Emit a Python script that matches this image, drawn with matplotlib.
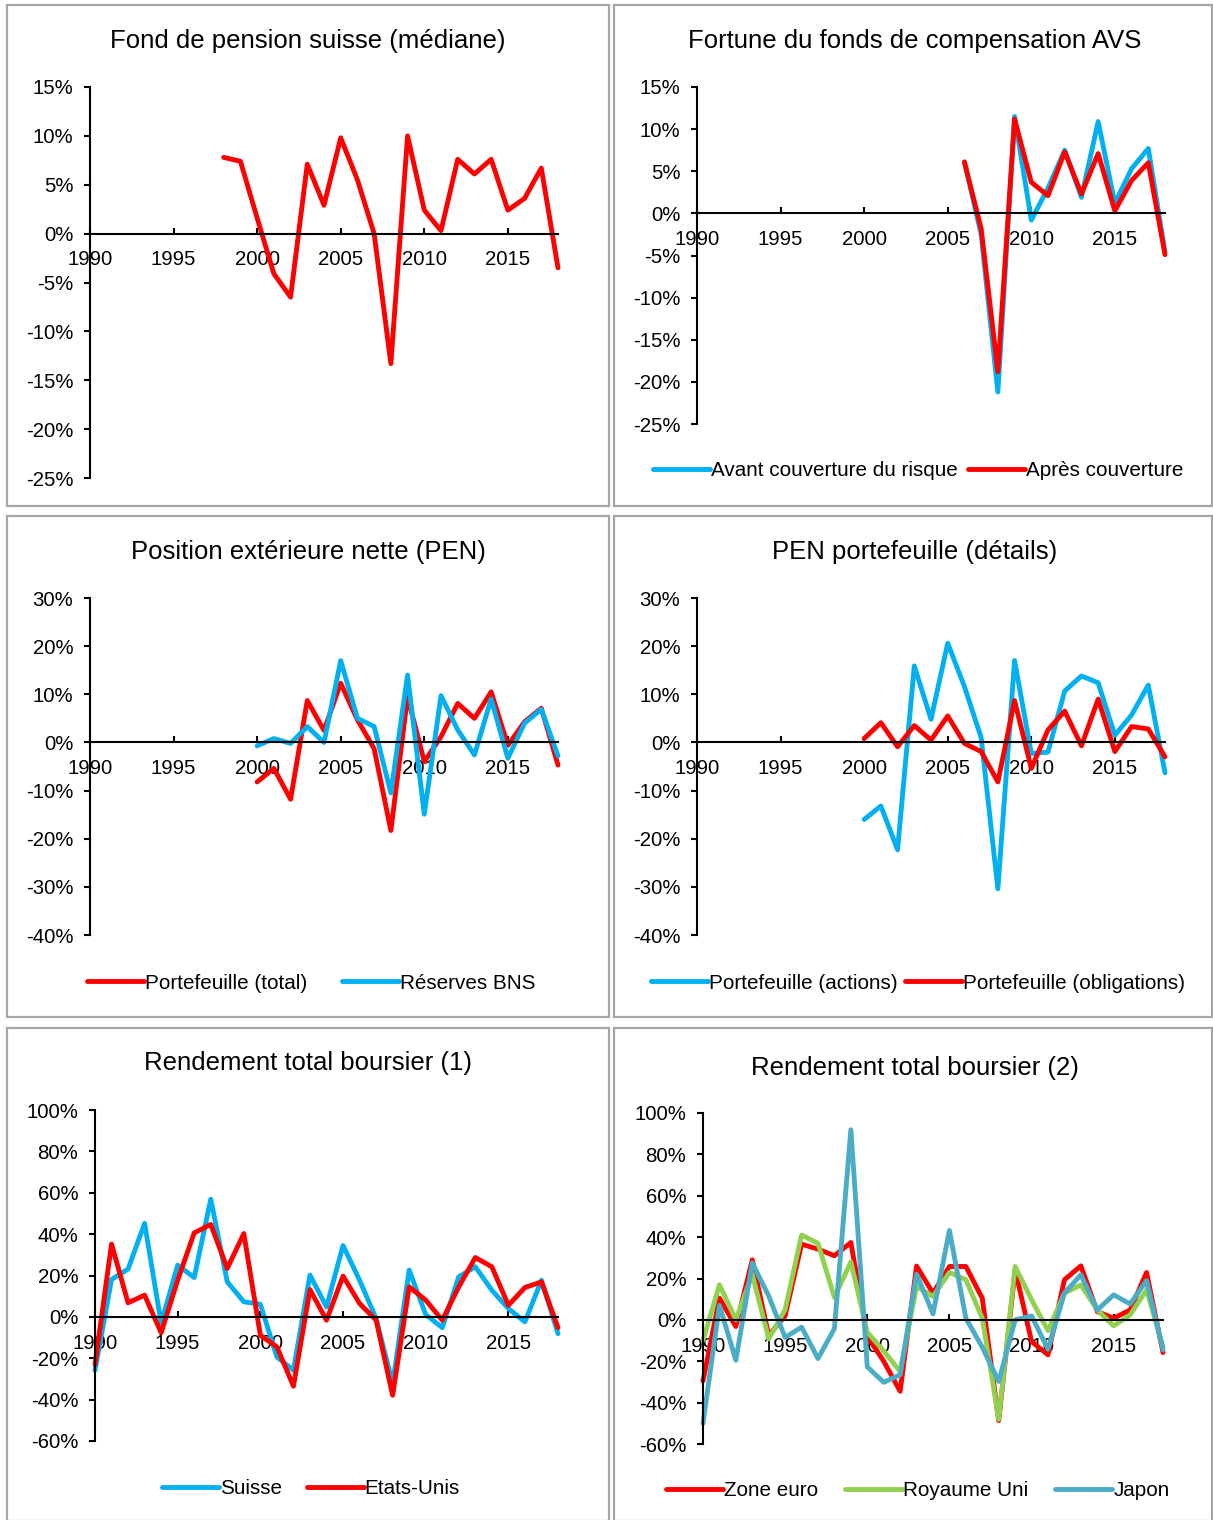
import matplotlib
matplotlib.use("Agg")
import matplotlib.pyplot as plt
from matplotlib.patches import Rectangle
from matplotlib.ticker import FuncFormatter

plt.rcParams['font.family'] = ['Liberation Sans', 'DejaVu Sans']

# =============================
# Data (% returns)
# =============================

years_pension = list(range(1998, 2019))
pension = [7.8, 7.4, 1.6, -4.1, -6.5, 7.1, 2.9, 9.8, 5.5, 0.0, -13.3,
           10.0, 2.4, 0.3, 7.6, 6.1, 7.6, 2.4, 3.6, 6.7, -3.5]

years_avs = list(range(2006, 2019))
avs_before = [6.1, -2.5, -21.2, 11.5, -0.8, 3.0, 7.5, 1.9, 10.9, 1.2, 5.3, 7.7, -4.6]
avs_after = [6.1, -1.8, -18.8, 11.2, 3.7, 2.1, 7.3, 2.3, 7.1, 0.3, 3.9, 6.0, -4.9]

years_pen = list(range(2000, 2019))
pen_total = [-8.2, -5.4, -11.8, 8.7, 2.5, 12.3, 4.7, -1.3, -18.3, 9.5,
             -4.0, 1.2, 8.1, 5.0, 10.5, -0.6, 4.3, 7.1, -4.7]
pen_bns = [-0.7, 0.8, -0.2, 3.3, 0.0, 17.0, 5.0, 3.3, -10.5, 14.0,
           -14.9, 9.7, 2.6, -2.6, 9.0, -3.3, 4.0, 6.9, -2.8]
pen_actions = [-16.0, -13.2, -22.3, 15.9, 4.8, 20.6, 11.6, 1.0, -30.4, 17.0,
               -2.3, -2.0, 10.7, 13.8, 12.4, 1.5, 5.7, 11.9, -6.3]
pen_oblig = [0.8, 4.1, -0.9, 3.5, 0.5, 5.5, -0.2, -1.9, -8.2, 8.7,
             -5.4, 2.6, 6.5, -0.7, 9.0, -1.9, 3.3, 2.8, -3.0]

years_stock = list(range(1990, 2019))
suisse = [-25.8, 18.1, 23.1, 45.2, -3.0, 25.0, 19.0, 56.9, 16.9, 7.3,
          6.1, -19.4, -25.8, 20.2, 4.8, 34.5, 17.7, -0.8, -32.3, 22.6,
          1.1, -5.2, 19.4, 24.2, 12.9, 4.0, -2.4, 17.7, -8.1]
usa = [-23.0, 35.2, 6.8, 10.5, -7.7, 17.7, 40.6, 44.7, 23.4, 40.3,
       -8.9, -14.5, -33.5, 13.2, -1.6, 19.7, 6.5, -1.6, -37.9, 14.5,
       8.1, -1.6, 14.5, 28.7, 24.2, 5.6, 14.2, 16.9, -5.2]
euro = [-29.5, 10.5, -3.2, 29.0, -7.5, 2.0, 36.6, 34.2, 31.0, 37.4,
        -8.0, -20.0, -34.5, 26.0, 12.9, 25.8, 25.8, 10.5, -48.7, 24.2,
        -10.5, -16.9, 19.4, 26.1, 4.0, 0.8, 4.8, 22.9, -15.8]
uk = [-10.0, 17.0, 0.0, 22.0, -9.2, 5.0, 41.0, 37.0, 10.8, 28.0,
      -6.0, -15.0, -25.0, 16.1, 11.3, 22.9, 19.4, 0.8, -48.1, 25.8,
      9.7, -5.2, 12.9, 16.9, 4.8, -2.9, 2.4, 14.5, -13.0]
japan = [-50.0, 7.0, -19.5, 27.5, 11.5, -8.5, -3.5, -18.7, -4.2, 91.9,
         -22.7, -30.2, -26.5, 22.0, 2.9, 43.2, 0.8, -13.2, -29.8, 0.0,
         1.9, -14.2, 12.9, 21.8, 4.8, 12.1, 7.7, 19.0, -14.5]

RED = "#FF0000"
BLUE = "#00B0F0"
GREEN = "#92D050"
TEAL = "#4BACC6"

W, H = 1213, 1520
fig = plt.figure(figsize=(W / 100, H / 100), dpi=100)

# =============================
# Helpers
# =============================

def frame(l, t, r, b):
    fig.add_artist(Rectangle((l / W, 1 - b / H), (r - l) / W, (b - t) / H,
                             transform=fig.transFigure, fill=False,
                             edgecolor="#a6a6a6", linewidth=1.6))


def panel(l, t, r, b, ylo, yhi, ystep, title, title_y, title_x):
    ax = fig.add_axes([l / W, 1 - b / H, (r - l) / W, (b - t) / H])
    ax.set_xlim(1990, 2018)
    ax.set_ylim(ylo, yhi)
    ax.set_yticks(range(ylo, yhi + 1, ystep))
    ax.set_xticks(range(1990, 2016, 5))
    ax.yaxis.set_major_formatter(FuncFormatter(lambda v, p: f"{v:.0f}%"))
    for s in ["top", "right"]:
        ax.spines[s].set_visible(False)
    ax.spines["bottom"].set_position(("data", 0))
    ax.spines["left"].set_linewidth(1.5)
    ax.spines["bottom"].set_linewidth(1.5)
    ax.tick_params(axis="y", direction="out", length=4, width=1.5,
                   labelsize=14.7, pad=8)
    ax.tick_params(axis="x", direction="in", length=4, width=1.5,
                   labelsize=14.7, pad=12)
    ax.patch.set_alpha(0)
    fig.text(title_x / W, 1 - title_y / H, title, ha="center", va="center",
             fontsize=18.5)
    return ax


def line(ax, x, y, color, label=None):
    ax.plot(x, y, color=color, linewidth=3.5, label=label, clip_on=False,
            solid_joinstyle="round", solid_capstyle="round")


def legend(ax, order, cx, cy, ncol, colsp):
    h, lab = ax.get_legend_handles_labels()
    h = [h[i] for i in order]
    lab = [lab[i] for i in order]
    ax.legend(h, lab, loc="center", bbox_to_anchor=(cx / W, 1 - cy / H),
              bbox_transform=fig.transFigure, ncol=ncol, frameon=False,
              fontsize=14.9, handlelength=2.75, handletextpad=0.05,
              columnspacing=colsp, borderpad=0)


# =============================
# Frames
# =============================

frame(7, 5, 609, 506)
frame(614, 5, 1212, 506)
frame(7, 516, 609, 1017)
frame(614, 516, 1212, 1017)
frame(7, 1028, 609, 1521)
frame(614, 1028, 1212, 1521)

# =============================
# Fond de pension suisse
# =============================

ax1 = panel(90, 87, 558, 478, -25, 15, 5,
            "Fond de pension suisse (médiane)", 41, 308)
line(ax1, years_pension, pension, RED)

# =============================
# Fonds de compensation AVS
# =============================

ax2 = panel(697, 87, 1165, 424, -25, 15, 5,
            "Fortune du fonds de compensation AVS", 41, 915)
line(ax2, years_avs, avs_before, BLUE, "Avant couverture du risque")
line(ax2, years_avs, avs_after, RED, "Après couverture")
legend(ax2, [0, 1], 918, 471, 2, 0.5)

# =============================
# PEN
# =============================

ax3 = panel(90, 598, 558, 935, -40, 30, 10,
            "Position extérieure nette (PEN)", 552, 308)
line(ax3, years_pen, pen_total, RED, "Portefeuille (total)")
line(ax3, years_pen, pen_bns, BLUE, "Réserves BNS")
legend(ax3, [0, 1], 311, 983, 2, 1.7)

ax4 = panel(697, 598, 1165, 935, -40, 30, 10,
            "PEN portefeuille (détails)", 552, 915)
line(ax4, years_pen, pen_actions, BLUE, "Portefeuille (actions)")
line(ax4, years_pen, pen_oblig, RED, "Portefeuille (obligations)")
legend(ax4, [0, 1], 918, 983, 2, 0.4)

# =============================
# Rendement total boursier
# =============================

ax5 = panel(95, 1110, 558, 1441, -60, 100, 20,
            "Rendement total boursier (1)", 1063, 308)
line(ax5, years_stock, suisse, BLUE, "Suisse")
line(ax5, years_stock, usa, RED, "Etats-Unis")
legend(ax5, [0, 1], 311, 1489, 2, 1.2)

ax6 = panel(703, 1113, 1163, 1444, -60, 100, 20,
            "Rendement total boursier (2)", 1068, 915)
line(ax6, years_stock, euro, RED, "Zone euro")
line(ax6, years_stock, uk, GREEN, "Royaume Uni")
line(ax6, years_stock, japan, TEAL, "Japon")
legend(ax6, [0, 1, 2], 918, 1491, 3, 1.3)

fig.savefig("out.png", dpi=100)
